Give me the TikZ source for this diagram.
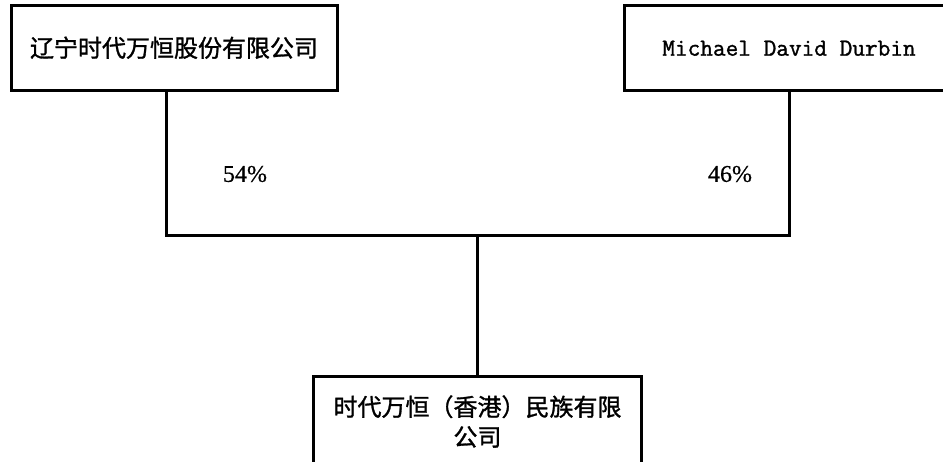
\documentclass[tikz,border=0pt]{standalone}
\usepackage{fontspec}
\setmainfont{Liberation Serif}
\newfontfamily\cjk[FakeBold=1.2]{Noto Sans CJK SC}
\newfontfamily\latinmono[FakeBold=1.2]{Latin Modern Mono}
\newfontfamily\sharefont[FakeBold=0.6]{Liberation Serif}
\usetikzlibrary{positioning}
\tikzset{
    firm/.style ={rectangle, draw, line width=1.5pt, minimum width=164pt, minimum height=42.5pt,
                  inner sep=2pt, align=center, font=\cjk\fontsize{12}{15}\selectfont},
    share/.style = {font=\sharefont\fontsize{12}{14}\selectfont}
}

\begin{document}
\begin{tikzpicture}[x=0.5pt,y=-0.5pt,line width=1.5pt]
  \useasboundingbox (0,0) rectangle (943,461);
  \node[firm, minimum width=163pt] (1) at (174,47.75) {辽宁时代万恒股份有限公司};
  \node[firm, minimum width=165pt, font=\latinmono\fontsize{12.3}{14}\selectfont] (2) at (789,48.25) {Michael David Durbin};
  \node[firm, anchor=north, minimum height=45pt] (3) at (477.5,375) {时代万恒（香港）民族有限\\公司};
  \node[share] (4) at (245,174) {54\%};
  \node[share] (5) at (730,174) {46\%};

  \draw ([xshift=-4pt]1.south) -- ++(0,144) -| (2.south);
  \draw (3.north) -- ++(0,-141);
\end{tikzpicture}
\end{document}
